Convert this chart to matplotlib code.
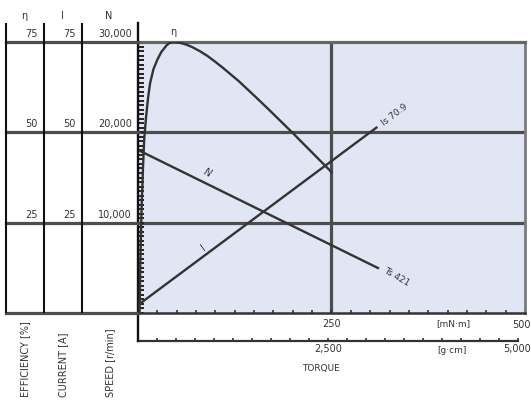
import numpy as np
import matplotlib.pyplot as plt

plt.rcParams['font.family'] = 'DejaVu Sans'
plt.rcParams['font.size'] = 7

# characteristic curves (torque in mN*m)
eff_torque = [2, 3, 4.5, 6.4, 8, 10.3, 13, 15.5, 20, 25, 30, 37, 41, 45, 50, 55,
              62, 70, 80, 90, 100, 110, 120, 130, 140, 150, 160, 170, 180, 190,
              200, 212, 225, 237, 250]
efficiency = [0, 14, 28, 40, 48, 54, 59.5, 63.5, 67.5, 70.1, 72.2, 74.1, 74.75,
              75.0, 74.93, 74.75, 74.3, 73.6, 72.45, 71.1, 69.5, 67.8, 66.0, 64.2,
              62.2, 60.2, 58.15, 56.1, 54.0, 51.9, 49.8, 47.2, 44.4, 41.8, 39.0]
speed_torque = [0, 310]
speed = [18050, 4980]
current_torque = [0, 308]
current = [2.2, 51.3]

speed_grid = [10000, 20000, 30000]
eff_labels = ['25', '50', '75']
cur_labels = ['25', '50', '75']
speed_labels = ['10,000', '20,000', '30,000']
headers = ['\u03b7', 'I', 'N']
col_titles = ['EFFICIENCY [%]', 'CURRENT [A]', 'SPEED [r/min]']
gcm_per_mnm = 10.197

txt = '#333333'
grid_c = '#4d4d4d'
line_c = '#333333'

W, H = 531, 401


def frect(x0, y0, x1, y1):
    return [x0 / W, 1 - y1 / H, (x1 - x0) / W, (y1 - y0) / H]


fig = plt.figure(figsize=(W / 100, H / 100), dpi=100)
ax = fig.add_axes(frect(138, 42, 525, 313))
axl = fig.add_axes(frect(6, 42, 138, 313))

# ---- main chart
ax.set_facecolor('#e1e6f4')
ax.set_xlim(0, 500)
ax.set_ylim(0, 30000)
for y in speed_grid[:-1]:
    ax.axhline(y, color=grid_c, lw=2.3, zorder=1)
ax.axvline(250, color=grid_c, lw=2.3, zorder=1)

ax.spines['left'].set_visible(False)
ax.spines['top'].set_color('#666666')
ax.spines['top'].set_linewidth(2.3)
ax.spines['right'].set_color('#7a7a7a')
ax.spines['right'].set_linewidth(2)
ax.spines['bottom'].set_color('#333333')
ax.spines['bottom'].set_linewidth(1.8)
ax.plot([0, 0], [-0.103, 1.07], transform=ax.get_xaxis_transform(),
        color='#111111', lw=1.7, clip_on=False, zorder=5)

ax.set_yticks(np.arange(0, 30001, 500))
ax.set_yticklabels([])
ax.tick_params(axis='y', direction='in', length=4, width=1.4, color='#222222')
ax.set_xticks([250], ['250'])
ax.set_xticks(np.arange(0, 501, 25), minor=True)
ax.tick_params(axis='x', which='both', direction='in', length=2.5, width=1.2,
               color='#333333', labelcolor=txt, pad=4)

xt = ax.get_xaxis_transform()
ax.annotate('500', xy=(500, 0), xycoords=xt, xytext=(-2.5, -8.5),
            textcoords='offset points', ha='center', va='center', color=txt)

ax.plot(speed_torque, speed, color=line_c, lw=1.7, zorder=3)

ax2 = ax.twinx()
ax2.set_ylim(0, 75)
ax2.set_axis_off()
ax2.plot(eff_torque, efficiency, color=line_c, lw=1.7, zorder=3)
ax2.plot(current_torque, current, color=line_c, lw=1.7, zorder=3)

ax2.text(45, 77.8, '\u03b7', ha='center', va='center', color=txt, clip_on=False)
ax.text(89, 15500, 'N', ha='center', va='center', rotation=-26, color=txt,
        style='italic')
ax2.text(84, 18, 'I', ha='center', va='center', rotation=36, color=txt)
ax2.text(332, 54.8, 'Is 70.9', ha='center', va='center', rotation=37,
         color=txt, fontsize=6.5)
ax.text(334, 3985, 'Ts 421', ha='center', va='center', rotation=-30,
        color=txt, fontsize=6.5)

sec = ax.secondary_xaxis(-0.103, functions=(lambda t: t * gcm_per_mnm,
                                             lambda g: g / gcm_per_mnm))
sec.set_xticks([2500, 5000], ['2,500', '5,000'])
sec.set_xticks(np.arange(0, 5001, 250), minor=True)
sec.tick_params(which='both', direction='in', length=2.5, width=1.2,
                color='#333333', labelcolor=txt, pad=2)
sec.spines['bottom'].set_bounds(0, 5000)
sec.spines['bottom'].set_color('#333333')
sec.spines['bottom'].set_linewidth(1.6)

ax.text(408, -0.041, '[mN\u00b7m]', transform=xt, ha='center', va='center',
        color=txt, fontsize=6.5)
ax.text(406, -0.137, '[g\u00b7cm]', transform=xt, ha='center', va='center',
        color=txt, fontsize=6.5)
ax.text(237, -0.203, 'TORQUE', transform=xt, ha='center', va='center',
        color=txt, fontsize=6.5)

# ---- left scale panel
col_edges = [0, 38, 76, 132]
axl.set_xlim(0, 132)
axl.set_ylim(0, 30000)
axl.set_axis_off()
for y in [0] + speed_grid:
    axl.axhline(y, color=grid_c, lw=2.3, clip_on=False, zorder=1)
axl.vlines(col_edges[:-1], 0, 32100, color='#111111', lw=1.5, clip_on=False,
           zorder=2)

for i, labels in enumerate([eff_labels, cur_labels, speed_labels]):
    right = col_edges[i + 1] - 6
    for y, lab in zip(speed_grid, labels):
        axl.text(right, y + 550, lab, ha='right', va='baseline', color=txt)
    mid = (col_edges[i] + col_edges[i + 1]) / 2
    axl.text(mid - 1, 32880, headers[i], ha='center', va='center', color=txt,
             clip_on=False)
    fig.text((6 + mid) / W, 4 / H, col_titles[i], rotation=90, ha='center',
             va='bottom', color=txt, fontsize=7)

fig.savefig('out.png', dpi=100)
